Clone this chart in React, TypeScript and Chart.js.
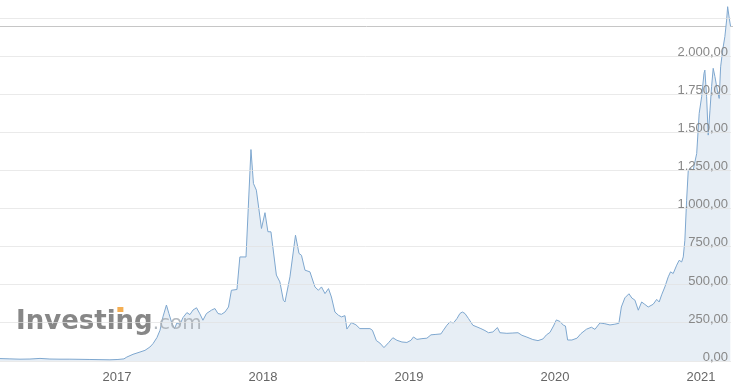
import React, { useEffect, useRef } from 'react';
import { Chart, registerables } from 'chart.js';

Chart.register(...registerables);

// Time of each weekly sample, in decimal years
const times = [
  2016.199, 2016.267, 2016.336, 2016.404, 2016.473, 2016.541, 2016.610, 2016.678, 2016.747, 2016.815,
  2016.884, 2016.952, 2017.007, 2017.048, 2017.068, 2017.110, 2017.158, 2017.192, 2017.226, 2017.247,
  2017.274, 2017.295, 2017.315, 2017.339, 2017.356, 2017.377, 2017.394, 2017.411, 2017.432, 2017.452,
  2017.479, 2017.500, 2017.521, 2017.545, 2017.568, 2017.589, 2017.613, 2017.647, 2017.671, 2017.692,
  2017.716, 2017.740, 2017.764, 2017.784, 2017.822, 2017.842, 2017.884, 2017.918, 2017.935, 2017.955,
  2017.990, 2018.014, 2018.034, 2018.055, 2018.092, 2018.116, 2018.140, 2018.151, 2018.185, 2018.223,
  2018.247, 2018.264, 2018.288, 2018.322, 2018.356, 2018.380, 2018.401, 2018.425, 2018.449, 2018.469,
  2018.493, 2018.517, 2018.538, 2018.562, 2018.575, 2018.606, 2018.637, 2018.664, 2018.699, 2018.733,
  2018.750, 2018.777, 2018.801, 2018.829, 2018.860, 2018.890, 2018.918, 2018.952, 2018.986, 2019.014,
  2019.031, 2019.055, 2019.089, 2019.123, 2019.151, 2019.185, 2019.219, 2019.236, 2019.260, 2019.281,
  2019.305, 2019.329, 2019.349, 2019.366, 2019.384, 2019.408, 2019.438, 2019.466, 2019.493, 2019.521,
  2019.545, 2019.575, 2019.606, 2019.623, 2019.671, 2019.712, 2019.747, 2019.774, 2019.808, 2019.849,
  2019.884, 2019.918, 2019.942, 2019.966, 2019.990, 2020.010, 2020.034, 2020.058, 2020.072, 2020.087,
  2020.116, 2020.151, 2020.178, 2020.216, 2020.250, 2020.274, 2020.308, 2020.342, 2020.377, 2020.411,
  2020.438, 2020.455, 2020.479, 2020.507, 2020.527, 2020.548, 2020.571, 2020.594, 2020.616, 2020.639,
  2020.673, 2020.697, 2020.714, 2020.731, 2020.753, 2020.776, 2020.792, 2020.810, 2020.834, 2020.851,
  2020.868, 2020.879, 2020.890, 2020.902, 2020.913, 2020.925, 2020.947, 2020.971, 2020.988, 2021.005,
  2021.021, 2021.027, 2021.039, 2021.050, 2021.062, 2021.073, 2021.084, 2021.096, 2021.112, 2021.125,
  2021.135, 2021.149, 2021.164, 2021.176, 2021.183, 2021.194, 2021.203,
];

// Price at each sample
const prices = [
  16, 14, 12, 13, 17, 13, 12, 12, 11, 10,
  9, 8, 10, 14, 26, 44, 59, 70, 92, 114,
  154, 202, 290, 368, 312, 246, 213, 250, 240, 285,
  318, 305, 335, 350, 310, 268, 312, 334, 345, 312,
  307, 322, 355, 465, 470, 684, 684, 1390, 1167, 1123,
  871, 975, 850, 849, 565, 520, 399, 388, 553, 827,
  707, 695, 597, 586, 487, 465, 487, 443, 476, 421,
  322, 301, 290, 298, 210, 252, 238, 213, 213, 213,
  202, 134, 118, 88, 120, 153, 136, 125, 122, 136,
  158, 142, 147, 150, 172, 175, 178, 202, 235, 257,
  250, 279, 312, 322, 312, 279, 235, 224, 213, 200,
  186, 191, 220, 186, 182, 184, 186, 169, 157, 141,
  134, 145, 172, 188, 230, 270, 260, 235, 230, 138,
  138, 150, 180, 209, 222, 208, 250, 245, 237, 242,
  248, 355, 415, 442, 414, 400, 334, 388, 372, 355,
  373, 405, 388, 435, 487, 553, 586, 575, 630, 662,
  651, 684, 794, 1057, 1250, 1266, 1255, 1364, 1628, 1737,
  1891, 1912, 1737, 1485, 1649, 1803, 1924, 1869, 1781, 1726,
  1934, 2044, 2132, 2241, 2329, 2253, 2200,
];

const yearTicks = [2017, 2018, 2019, 2020, 2021];
const priceTicks = [0, 250, 500, 750, 1000, 1250, 1500, 1750, 2000, 2250];
const labelledPriceMax = 2000;
const xMin = 2016.199;
const xMax = 2021.206;
const yMax = 2373;

function formatPrice(v: number): string {
  const s = v.toFixed(2);
  const [i, d] = s.split('.');
  return i.replace(/\B(?=(\d{3})+(?!\d))/g, '.') + ',' + d;
}

const FONT = '"Liberation Sans", Arial, Helvetica, sans-serif';

export default function App() {
  const ref = useRef<HTMLCanvasElement>(null);

  useEffect(() => {
    if (!ref.current) return;
    const points = times.map((t, i) => ({ x: t, y: prices[i] }));

    const lastLine = {
      id: 'lastLine',
      beforeDatasetsDraw(chart: any) {
        const { ctx, chartArea, scales } = chart;
        const y = Math.round(scales.y.getPixelForValue(prices[prices.length - 1])) + 0.5;
        ctx.save();
        ctx.strokeStyle = '#c6c6c6';
        ctx.lineWidth = 1;
        ctx.beginPath();
        ctx.moveTo(chartArea.left, y);
        ctx.lineTo(chartArea.right + 2, y);
        ctx.stroke();
        ctx.restore();
      },
    };

    const watermark = {
      id: 'watermark',
      afterDatasetsDraw(chart: any) {
        const { ctx } = chart;
        ctx.save();
        ctx.textBaseline = 'alphabetic';
        ctx.textAlign = 'left';
        ctx.globalAlpha = 0.88;
        ctx.fillStyle = '#767676';
        ctx.font = 'bold 26px "DejaVu Sans", Verdana, sans-serif';
        const main = 'Investing';
        ctx.fillText(main, 16, 329);
        const pre = ctx.measureText('Investin').width;
        const preI = ctx.measureText('Invest').width;
        const iw = pre - preI;
        ctx.fillStyle = '#f2a33a';
        ctx.fillRect(16 + preI + iw / 2 - 3, 307, 6, 5);
        const mw = ctx.measureText(main).width;
        ctx.fillStyle = '#a9afb6';
        ctx.font = '20px "DejaVu Sans", Verdana, sans-serif';
        ctx.fillText('.com', 16 + mw, 329);
        ctx.restore();
      },
    };

    const chart = new Chart(ref.current, {
      type: 'line',
      data: {
        datasets: [
          {
            data: points,
            borderColor: '#7ea7cf',
            borderWidth: 1,
            backgroundColor: '#e7eef5',
            fill: 'origin',
            pointRadius: 0,
            tension: 0,
          },
        ],
      },
      options: {
        responsive: false,
        animation: false,
        events: [],
        layout: { padding: { top: 0, right: 8, bottom: 0, left: 0 } },
        plugins: { legend: { display: false }, tooltip: { enabled: false } },
        scales: {
          x: {
            type: 'linear',
            min: xMin,
            max: xMax,
            grid: { display: false, drawTicks: false },
            border: { display: false },
            afterBuildTicks: (s: any) => {
              s.ticks = yearTicks.map((v) => ({ value: v }));
            },
            afterFit: (s: any) => {
              s.height = 28;
              s.paddingLeft = 0;
              s.paddingRight = 0;
            },
            ticks: {
              autoSkip: false,
              maxRotation: 0,
              padding: 9,
              color: '#666',
              font: { family: FONT, size: 13 },
              callback: (v: any) => String(v),
            },
          },
          y: {
            type: 'linear',
            position: 'right',
            min: 0,
            max: yMax,
            grid: { color: 'rgba(225,225,225,0.7)', drawTicks: false, z: 1 },
            border: { display: false },
            afterBuildTicks: (s: any) => {
              s.ticks = priceTicks.map((v) => ({ value: v }));
            },
            afterFit: (s: any) => {
              s.width = 0;
              s.paddingTop = 0;
              s.paddingBottom = 0;
            },
            ticks: {
              z: 2,
              mirror: true,
              padding: -3,
              labelOffset: -4,
              color: '#888',
              font: { family: FONT, size: 13 },
              callback: (v: any) => (Number(v) > labelledPriceMax ? '' : formatPrice(Number(v))),
            },
          },
        },
      },
      plugins: [lastLine, watermark],
    });
    return () => chart.destroy();
  }, []);

  return (
    <div style={{ position: 'fixed', left: 0, top: 0, width: 739, height: 389, background: '#fff' }}>
      <canvas ref={ref} width={739} height={389} style={{ display: 'block' }} />
    </div>
  );
}
